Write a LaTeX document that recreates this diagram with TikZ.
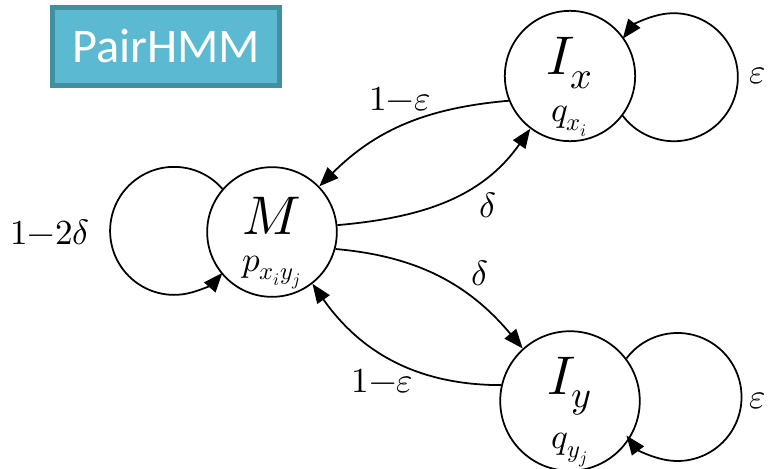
\documentclass[tikz,border=0pt]{standalone}
\usepackage{fontspec}
\usepackage{unicode-math}
\setmathfont{Latin Modern Math}
\newfontfamily\boxfont{Carlito}
\usetikzlibrary{arrows.meta}
\definecolor{hmmfill}{RGB}{91,185,209}
\definecolor{hmmline}{RGB}{66,143,160}
\newcommand{\statetext}[2]{\fontsize{31}{31}\selectfont\rule{0pt}{34pt}$#1$\\[9pt]\fontsize{20}{20}\selectfont$#2$}
\begin{document}
\begin{tikzpicture}[x=0.02cm, y=0.02cm,
    state/.style={draw, circle, line width=1pt, minimum size=2.56cm, inner sep=0pt, align=center},
    trans/.style={-{Triangle[length=11pt, width=8.5pt]}, line width=1pt},
    lab/.style={font=\fontsize{20}{24}\selectfont},
]
  \useasboundingbox (0,0) rectangle (769,468);

  \node[fill=hmmfill, draw=hmmline, line width=2.8pt, minimum width=4.54cm, minimum height=1.56cm,
        text=white, font=\boxfont\fontsize{27.5}{30}\selectfont] (title) at (166,421.5) {PairHMM};

  \node[state] (M) at (272,236) {\statetext{M}{p_{x_iy_j}}};
  \node[state] (Ix) at (570,392) {\statetext{I_x}{q_{x_i}}};
  \node[state] (Iy) at (570,67) {\statetext{I_y}{q_{y_j}}};

  % self loops
  \draw[trans] (M.139) arc[start angle=41, end angle=319, radius=64];
  \draw[trans] (Ix.-37) arc[start angle=-143, end angle=143, radius=64];
  \draw[trans] (Iy.37) arc[start angle=143, end angle=-143, radius=64];
  \node[lab] (stayM) at (50,236) {$1{-}2\delta$};
  \node[lab] (stayx) at (758,392) {$\varepsilon$};
  \node[lab] (stayy) at (758,67) {$\varepsilon$};

  % transitions
  \draw[trans] (Ix.202) to[out=185, in=45] node[lab, pos=0.53, above=5pt] {$1{-}\varepsilon$} (M.44);
  \draw[trans] (M.6) to[out=5, in=235] node[lab, pos=0.64, below right] {$\delta$} (Ix.233);
  \draw[trans] (M.-15) to[out=-5, in=130] node[lab, pos=0.64, above right] {$\delta$} (Iy.132);
  \draw[trans] (Iy.167) to[out=180, in=-55] node[lab, pos=0.56, below=5pt] {$1{-}\varepsilon$} (M.-52);
\end{tikzpicture}
\end{document}
